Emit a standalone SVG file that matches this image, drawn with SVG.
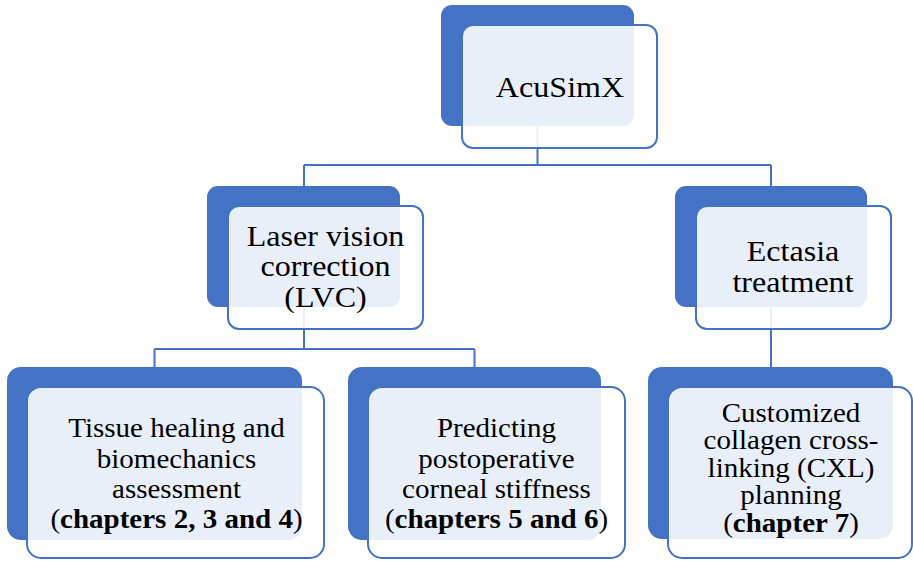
<svg xmlns="http://www.w3.org/2000/svg" width="913" height="561" viewBox="0 0 913 561">
  <style>
    .back { fill: #4472C4; }
    .front { fill: #FFFFFF; fill-opacity: 0.885; stroke: #4472C4; stroke-width: 2; }
    .link { fill: none; stroke: #4472C4; stroke-width: 2; }
    .lbl { font-family: "Liberation Serif", "Times New Roman", serif; fill: #000000; text-anchor: middle; }
    .l1 { font-size: 30px; }
    .l2 { font-size: 27px; }
    .b { font-weight: bold; }
  </style>

  <!-- hierarchy connectors, drawn beneath the nodes -->
  <g id="connectors">
    <path class="link" d="M537.5 100 V165 M304 165 H771 M304 165 V190 M771 165 V190"/>
    <path class="link" d="M304 300 V349 M154.5 349 H474.5 M154.5 349 V372 M474.5 349 V372"/>
    <path class="link" d="M771 300 V372"/>
  </g>

  <!-- root -->
  <g id="node-acusimx">
    <rect class="back" x="441" y="5" width="193" height="121" rx="11"/>
    <rect class="front" x="462" y="25" width="195" height="123" rx="11"/>
    <g transform="translate(560 0) scale(1.07 1)">
      <text class="lbl l1" x="0" y="97">AcuSimX</text>
    </g>
  </g>

  <!-- second level -->
  <g id="node-lvc">
    <rect class="back" x="207" y="186" width="193" height="121" rx="11"/>
    <rect class="front" x="228" y="206" width="195" height="123" rx="11"/>
    <g transform="translate(325.5 0) scale(1.07 1)">
      <text class="lbl l1" x="0" y="246">Laser vision</text>
      <text class="lbl l1" x="0" y="276.5">correction</text>
      <text class="lbl l1" x="0" y="307">(LVC)</text>
    </g>
  </g>

  <g id="node-ectasia">
    <rect class="back" x="675" y="186" width="192" height="121" rx="11"/>
    <rect class="front" x="696" y="206" width="195" height="123" rx="11"/>
    <g transform="translate(793 0) scale(1.07 1)">
      <text class="lbl l1" x="0" y="261">Ectasia</text>
      <text class="lbl l1" x="0" y="292">treatment</text>
    </g>
  </g>

  <!-- third level -->
  <g id="node-tissue">
    <rect class="back" x="7" y="367" width="295" height="173" rx="14"/>
    <rect class="front" x="27" y="387" width="297" height="171" rx="14"/>
    <g transform="translate(176.5 0) scale(1.075 1)">
      <text class="lbl l2" x="0" y="437.5">Tissue healing and</text>
      <text class="lbl l2" x="0" y="467.8">biomechanics</text>
      <text class="lbl l2" x="0" y="498.1">assessment</text>
      <text class="lbl l2" x="0" y="528.4">(<tspan class="b">chapters 2, 3 and 4</tspan>)</text>
    </g>
  </g>

  <g id="node-stiffness">
    <rect class="back" x="348" y="367" width="253" height="173" rx="14"/>
    <rect class="front" x="368" y="387" width="257" height="171" rx="14"/>
    <g transform="translate(496.5 0) scale(1.075 1)">
      <text class="lbl l2" x="0" y="437.5">Predicting</text>
      <text class="lbl l2" x="0" y="467.8">postoperative</text>
      <text class="lbl l2" x="0" y="498.1">corneal stiffness</text>
      <text class="lbl l2" x="0" y="528.4">(<tspan class="b">chapters 5 and 6</tspan>)</text>
    </g>
  </g>

  <g id="node-cxl">
    <rect class="back" x="648" y="367" width="245" height="172" rx="14"/>
    <rect class="front" x="668" y="387" width="244" height="171" rx="14"/>
    <g transform="translate(791 0) scale(1.075 1)">
      <text class="lbl l2" x="0" y="421.7">Customized</text>
      <text class="lbl l2" x="0" y="449.2">collagen cross-</text>
      <text class="lbl l2" x="0" y="476.7">linking (CXL)</text>
      <text class="lbl l2" x="0" y="504.2">planning</text>
      <text class="lbl l2" x="0" y="531.7">(<tspan class="b">chapter 7</tspan>)</text>
    </g>
  </g>
</svg>
